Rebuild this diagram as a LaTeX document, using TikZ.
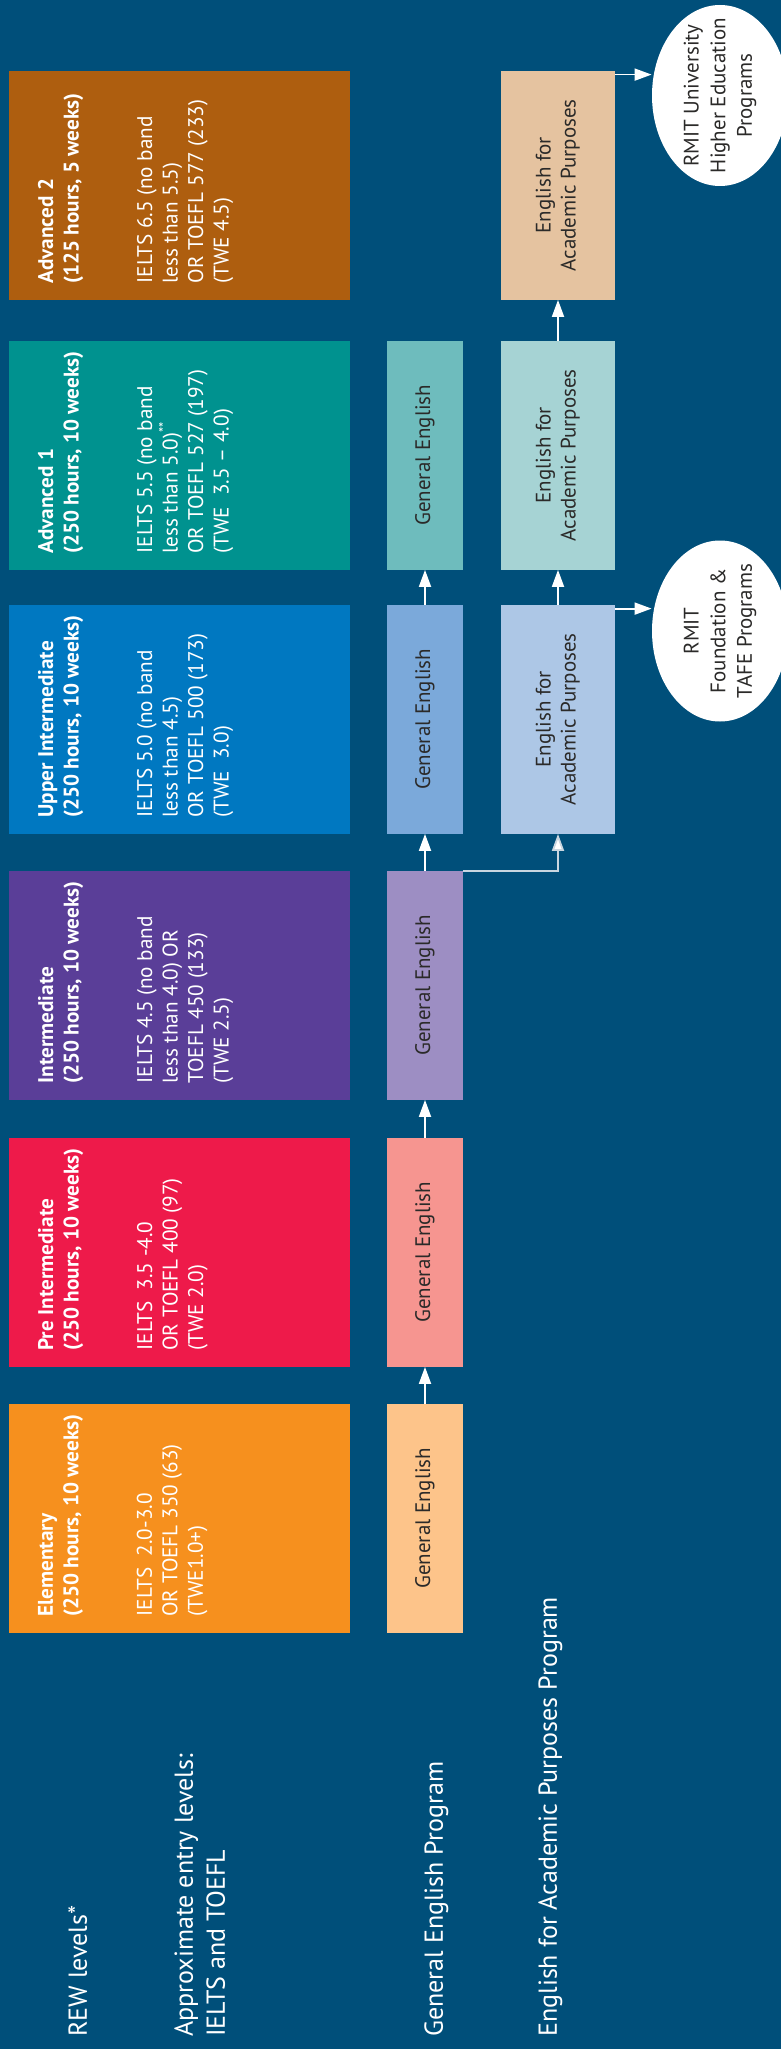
\documentclass[tikz,border=0pt]{standalone}
\usepackage{fontspec}
\setmainfont{PT Sans}
\usepackage{graphicx}
\usetikzlibrary{arrows.meta,shapes.geometric}

\definecolor{bg}{HTML}{004F7A}
\definecolor{textdark}{HTML}{2B2A29}
\definecolor{linkgray}{HTML}{C9D6E0}
% REW levels
\definecolor{lvElemC}{HTML}{F6901E}
\definecolor{lvPreC}{HTML}{EE1A4A}
\definecolor{lvIntC}{HTML}{5A3E98}
\definecolor{lvUpC}{HTML}{0078C1}
\definecolor{lvAdvAC}{HTML}{00928F}
\definecolor{lvAdvBC}{HTML}{AE5E0F}
% General English
\definecolor{geElemC}{HTML}{FDC48A}
\definecolor{gePreC}{HTML}{F69590}
\definecolor{geIntC}{HTML}{9D8EC3}
\definecolor{geUpC}{HTML}{7BA9DA}
\definecolor{geAdvAC}{HTML}{6EBCBD}
% English for Academic Purposes
\definecolor{eapUpC}{HTML}{ADC7E6}
\definecolor{eapAdvAC}{HTML}{A6D3D4}
\definecolor{eapAdvBC}{HTML}{E5C3A0}

% rotated, centred lines of text
\newcommand{\vtext}[1]{\rotatebox{90}{\begin{tabular}{@{}c@{}}#1\end{tabular}}}

\begin{document}
\begin{tikzpicture}[x=0.5pt,y=-0.5pt,
    level/.style={rectangle,inner sep=0pt,minimum width=170.5pt,minimum height=114.25pt},
    leveltext/.style={rotate=90,anchor=north west,inner sep=0pt,align=left,text=white,
        font=\fontsize{10.6}{12.75}\selectfont},
    gebox/.style={rectangle,inner sep=0pt,minimum width=38pt,minimum height=114.25pt,
        text=textdark,font=\fontsize{10.5}{12.5}\selectfont},
    eapbox/.style={gebox,minimum width=57pt},
    dest/.style={ellipse,fill=white,inner sep=0pt,minimum width=68pt,minimum height=90.5pt},
    desttext/.style={inner sep=0pt,text=textdark,font=\fontsize{10.5}{13.3}\selectfont},
    rowlabel/.style={rotate=90,anchor=north west,inner sep=0pt,align=left,text=white,
        font=\fontsize{13}{16}\selectfont},
    flow/.style={draw=white,line width=0.9pt,-{Triangle[length=8.5pt,width=6pt,fill=white]}}]

    % Background:
    \fill [bg] (0,0) rectangle (781,2049);
    \useasboundingbox (0,0) rectangle (781,2049);

    % REW levels, from Elementary (bottom) to Advanced 2 (top):
    \node [level,fill=lvElemC] (lvElem) at (179.5,1518.25) {};
    \node [level,fill=lvPreC] (lvPre) at (179.5,1252.25) {};
    \node [level,fill=lvIntC] (lvInt) at (179.5,985.25) {};
    \node [level,fill=lvUpC] (lvUp) at (179.5,719.25) {};
    \node [level,fill=lvAdvAC] (lvAdvA) at (179.5,455.25) {};
    \node [level,fill=lvAdvBC] (lvAdvB) at (179.5,185.25) {};

    % Their texts: name, length, then entry levels
    \node [leveltext] (lvElemTxt) at ([xshift=14.5pt,yshift=8pt]lvElem.south west)
        {\textbf{Elementary}\\\textbf{(250 hours, 10 weeks)}\\[24pt]
         IELTS\ \ 2.0-3.0\\OR TOEFL 350 (63)\\(TWE1.0+)};
    \node [leveltext] (lvPreTxt) at ([xshift=14.5pt,yshift=8pt]lvPre.south west)
        {\textbf{Pre Intermediate}\\\textbf{(250 hours, 10 weeks)}\\[24pt]
         IELTS\ \ 3.5 -4.0\\OR TOEFL 400 (97)\\(TWE 2.0)};
    \node [leveltext] (lvIntTxt) at ([xshift=14.5pt,yshift=8pt]lvInt.south west)
        {\textbf{Intermediate}\\\textbf{(250 hours, 10 weeks)}\\[24pt]
         IELTS 4.5 (no band\\less than 4.0) OR\\TOEFL 450 (133)\\(TWE 2.5)};
    \node [leveltext] (lvUpTxt) at ([xshift=14.5pt,yshift=8pt]lvUp.south west)
        {\textbf{Upper Intermediate}\\\textbf{(250 hours, 10 weeks)}\\[24pt]
         IELTS 5.0 (no band\\less than 4.5)\\OR TOEFL 500 (173)\\(TWE\ \ 3.0)};
    \node [leveltext] (lvAdvATxt) at ([xshift=14.5pt,yshift=8pt]lvAdvA.south west)
        {\textbf{Advanced 1}\\\textbf{(250 hours, 10 weeks)}\\[24pt]
         IELTS 5.5 (no band\\less than 5.0)\textsuperscript{**}\\OR TOEFL 527 (197)\\(TWE\ \ 3.5 -- 4.0)};
    \node [leveltext] (lvAdvBTxt) at ([xshift=14.5pt,yshift=8pt]lvAdvB.south west)
        {\textbf{Advanced 2}\\\textbf{(125 hours, 5 weeks)}\\[24pt]
         IELTS 6.5 (no band\\less than 5.5)\\OR TOEFL 577 (233)\\(TWE 4.5)};

    % General English Program:
    \node [gebox,fill=geElemC] (geElem) at (425,1518.25) {\vtext{General English}};
    \node [gebox,fill=gePreC] (gePre) at (425,1252.25) {\vtext{General English}};
    \node [gebox,fill=geIntC] (geInt) at (425,985.25) {\vtext{General English}};
    \node [gebox,fill=geUpC] (geUp) at (425,719.25) {\vtext{General English}};
    \node [gebox,fill=geAdvAC] (geAdvA) at (425,455.25) {\vtext{General English}};

    % English for Academic Purposes Program:
    \node [eapbox,fill=eapUpC] (eapUp) at (558,719.25) {\vtext{English for\\Academic Purposes}};
    \node [eapbox,fill=eapAdvAC] (eapAdvA) at (558,455.25) {\vtext{English for\\Academic Purposes}};
    \node [eapbox,fill=eapAdvBC] (eapAdvB) at (558,185.25) {\vtext{English for\\Academic Purposes}};

    % Destinations:
    \node [dest] (uni) at (720,95.5) {};
    \node [desttext] (uniTxt) at (uni.center) {\vtext{RMIT University\\Higher Education\\Programs}};
    \node [dest] (found) at (720,631) {};
    \node [desttext] (foundTxt) at (found.center) {\vtext{RMIT\\Foundation \&\\TAFE Programs}};

    % Progression arrows:
    \draw [flow] (geElem.north) -- (gePre.south);
    \draw [flow] (gePre.north) -- (geInt.south);
    \draw [flow] (geInt.north) -- (geUp.south);
    \draw [flow] (geUp.north) -- (geAdvA.south);
    \draw [flow,draw=linkgray] (geInt.north east) -| (eapUp.south);
    \draw [flow] (eapUp.north) -- (eapAdvA.south);
    \draw [flow] (eapAdvA.north) -- (eapAdvB.south);

    % Exits to RMIT programs:
    \coordinate (foundIn) at ([yshift=-2pt]eapUp.north east);
    \coordinate (uniIn) at ([yshift=-2pt]eapAdvB.north east);
    \draw [flow] (foundIn) -- (foundIn -| found.west);
    \draw [flow] (uniIn) -- (uniIn -| uni.west);

    % Row labels:
    \node [rowlabel] (rowLevels) at (68,2037) {REW levels*};
    \node [rowlabel] (rowEntry) at (174,2037) {Approximate entry levels:\\IELTS and TOEFL};
    \node [rowlabel] (rowGE) at (424,2037) {General English Program};
    \node [rowlabel] (rowEAP) at (538,2037) {English for Academic Purposes Program};
\end{tikzpicture}
\end{document}
